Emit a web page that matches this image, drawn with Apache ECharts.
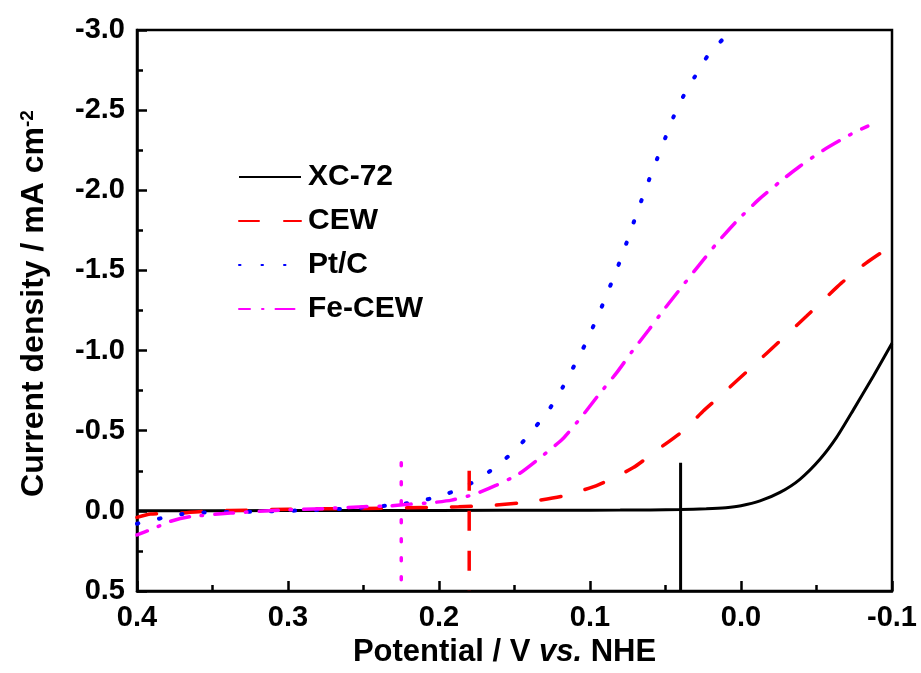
<!DOCTYPE html>
<html>
<head>
<meta charset="utf-8">
<script src="https://cdn.jsdelivr.net/npm/echarts@6/dist/echarts.min.js"></script>
<style>
html,body{margin:0;padding:0;background:#fff;}
#chart{width:921px;height:673px;}
</style>
</head>
<body>
<div id="chart"></div>
<script>
// ---- data (potential in V vs. NHE, current density in mA cm^-2) ----
var xc72X = [0.40, 0.30, 0.20, 0.12, 0.08, 0.06, 0.04, 0.023, 0.010, 0.000, -0.0126, -0.0258, -0.039, -0.0523, -0.0634, -0.0744, -0.0876, -0.100];
var xc72Y = [0.000, -0.002, -0.003, -0.004, -0.005, -0.006, -0.008, -0.013, -0.020, -0.032, -0.062, -0.115, -0.197, -0.322, -0.460, -0.630, -0.840, -1.045];

var cewX = [0.400, 0.391, 0.371, 0.350, 0.327, 0.300, 0.250, 0.210, 0.187, 0.164, 0.141, 0.1177, 0.0945, 0.0713, 0.054, 0.037, 0.025, 0.0139, -0.009, -0.0258, -0.0433, -0.0666, -0.083, -0.100];
var cewY = [0.041, 0.020, 0.014, 0.000, -0.004, -0.010, -0.015, -0.021, -0.025, -0.035, -0.056, -0.093, -0.162, -0.270, -0.390, -0.509, -0.623, -0.716, -0.913, -1.060, -1.214, -1.422, -1.547, -1.655];

var ptcX = [0.400, 0.3836, 0.370, 0.356, 0.343, 0.3166, 0.2876, 0.259, 0.232, 0.218, 0.2045, 0.1905, 0.1766, 0.163, 0.149, 0.137, 0.1265, 0.118, 0.1106, 0.1035, 0.0976, 0.0916, 0.086, 0.0806, 0.0757, 0.0707, 0.0658, 0.0607, 0.0554, 0.050, 0.0446, 0.038, 0.0305, 0.0212, 0.006];
var ptcY = [0.080, 0.045, 0.020, 0.010, 0.008, 0.004, -0.004, -0.015, -0.035, -0.052, -0.079, -0.121, -0.183, -0.270, -0.384, -0.513, -0.641, -0.772, -0.903, -1.033, -1.156, -1.287, -1.418, -1.547, -1.675, -1.810, -1.940, -2.070, -2.200, -2.330, -2.460, -2.590, -2.710, -2.850, -3.000];

var fecewX = [0.400, 0.390, 0.378, 0.365, 0.338, 0.305, 0.274, 0.250, 0.2325, 0.219, 0.206, 0.1916, 0.176, 0.162, 0.1475, 0.133, 0.118, 0.1055, 0.094, 0.0823, 0.072, 0.061, 0.051, 0.039, 0.028, 0.016, 0.003, -0.0115, -0.026, -0.039, -0.0545, -0.074, -0.084];
var fecewY = [0.150, 0.114, 0.066, 0.037, 0.014, -0.004, -0.015, -0.026, -0.031, -0.042, -0.050, -0.067, -0.105, -0.160, -0.228, -0.332, -0.450, -0.588, -0.727, -0.862, -0.996, -1.130, -1.256, -1.400, -1.530, -1.670, -1.806, -1.940, -2.055, -2.150, -2.250, -2.356, -2.400];

// onset potential markers: [x, yTop, yBottom]
var onsetXC72 = [0.040, -0.30, 0.5];
var onsetCEW = [0.180, -0.25, 0.5];
var onsetFeCEW = [0.225, -0.30, 0.5];

var seriesNames = ['XC-72', 'CEW', 'Pt/C', 'Fe-CEW'];
var xMin = -0.1, xMax = 0.4, xStep = 0.1;
var yMin = -3.0, yMax = 0.5, yStep = 0.5;

function zip(xs, ys) { return xs.map(function (x, i) { return [x, ys[i]]; }); }
function vline(m) { return [[m[0], m[1]], [m[0], m[2]]]; }

var FONT = '"Liberation Sans", Arial, sans-serif';
var chart = echarts.init(document.getElementById('chart'), null, {renderer: 'canvas'});

var axisCommon = {
  axisLine: {show: true, onZero: false, lineStyle: {color: '#000', width: 2.5}},
  axisTick: {show: true, inside: true, length: 10, lineStyle: {color: '#000', width: 2.5}},
  minorTick: {show: true, splitNumber: 2, length: 6, lineStyle: {color: '#000', width: 2.5}},
  splitLine: {show: false},
  axisLabel: {color: '#000', fontSize: 29, fontWeight: 'bold', fontFamily: FONT, margin: 12,
    formatter: function (v) { return (Math.abs(v) < 1e-9 ? 0 : v).toFixed(1); }}
};

var option = {
  animation: false,
  backgroundColor: '#fff',
  grid: {left: 137, right: 29, top: 30, bottom: 81, show: true, borderColor: '#000', borderWidth: 2.5, backgroundColor: 'transparent'},
  legend: {
    data: seriesNames,
    orient: 'vertical',
    left: 233, top: 157,
    itemWidth: 62, itemHeight: 10, itemGap: 14,
    itemStyle: {opacity: 0},
    textStyle: {color: '#000', fontSize: 30, fontWeight: 'bold', fontFamily: FONT, padding: [0, 0, 0, 2]}
  },
  xAxis: Object.assign({}, axisCommon, {
    type: 'value', inverse: true, min: xMin, max: xMax, interval: xStep,
    name: 'Potential / V {it|vs.} NHE', nameLocation: 'middle', nameGap: 46,
    nameTextStyle: {color: '#000', fontSize: 31, fontWeight: 'bold', fontFamily: FONT, padding: [0, 20, 0, 0],
      rich: {it: {fontSize: 31, fontWeight: 'bold', fontStyle: 'italic', fontFamily: FONT, color: '#000'}}}
  }),
  yAxis: Object.assign({}, axisCommon, {
    type: 'value', inverse: true, min: yMin, max: yMax, interval: yStep,
    name: 'Current density / mA cm{sup|-2}', nameLocation: 'middle', nameGap: 86,
    nameTextStyle: {color: '#000', fontSize: 32, fontWeight: 'bold', fontFamily: FONT, padding: [0, 0, 0, 14],
      rich: {sup: {fontSize: 19, fontWeight: 'bold', fontFamily: FONT, color: '#000', verticalAlign: 'top', padding: [0, 0, 14, 0]}}}
  }),
  series: [
    {name: 'XC-72', type: 'line', data: zip(xc72X, xc72Y), showSymbol: false, symbol: 'none', smooth: 0.2,
      lineStyle: {color: '#000000', width: 3}, itemStyle: {color: '#000000'}},
    {name: 'CEW', type: 'line', data: zip(cewX, cewY), showSymbol: false, symbol: 'none', smooth: 0.2,
      lineStyle: {color: '#ff0000', width: 3.5, type: [20, 25], cap: 'round'}, itemStyle: {color: '#ff0000'}},
    {name: 'Pt/C', type: 'line', data: zip(ptcX, ptcY), showSymbol: false, symbol: 'none', smooth: 0.2,
      lineStyle: {color: '#0000ff', width: 4, type: [1.5, 21], cap: 'round'}, itemStyle: {color: '#0000ff'}},
    {name: 'Fe-CEW', type: 'line', data: zip(fecewX, fecewY), showSymbol: false, symbol: 'none', smooth: 0.2,
      lineStyle: {color: '#ff00ff', width: 3.5, type: [19, 12, 1.5, 12], dashOffset: 8, cap: 'round'}, itemStyle: {color: '#ff00ff'}},
    {name: 'XC-72 onset', type: 'line', data: vline(onsetXC72), showSymbol: false, symbol: 'none',
      lineStyle: {color: '#000000', width: 3}, silent: true},
    {name: 'CEW onset', type: 'line', data: vline(onsetCEW), showSymbol: false, symbol: 'none',
      lineStyle: {color: '#ff0000', width: 3.5, type: [20, 20]}, silent: true},
    {name: 'Fe-CEW onset', type: 'line', data: vline(onsetFeCEW), showSymbol: false, symbol: 'none',
      lineStyle: {color: '#ff00ff', width: 3.5, type: [3, 16], cap: 'round'}, silent: true}
  ]
};
chart.setOption(option);
</script>
</body>
</html>
